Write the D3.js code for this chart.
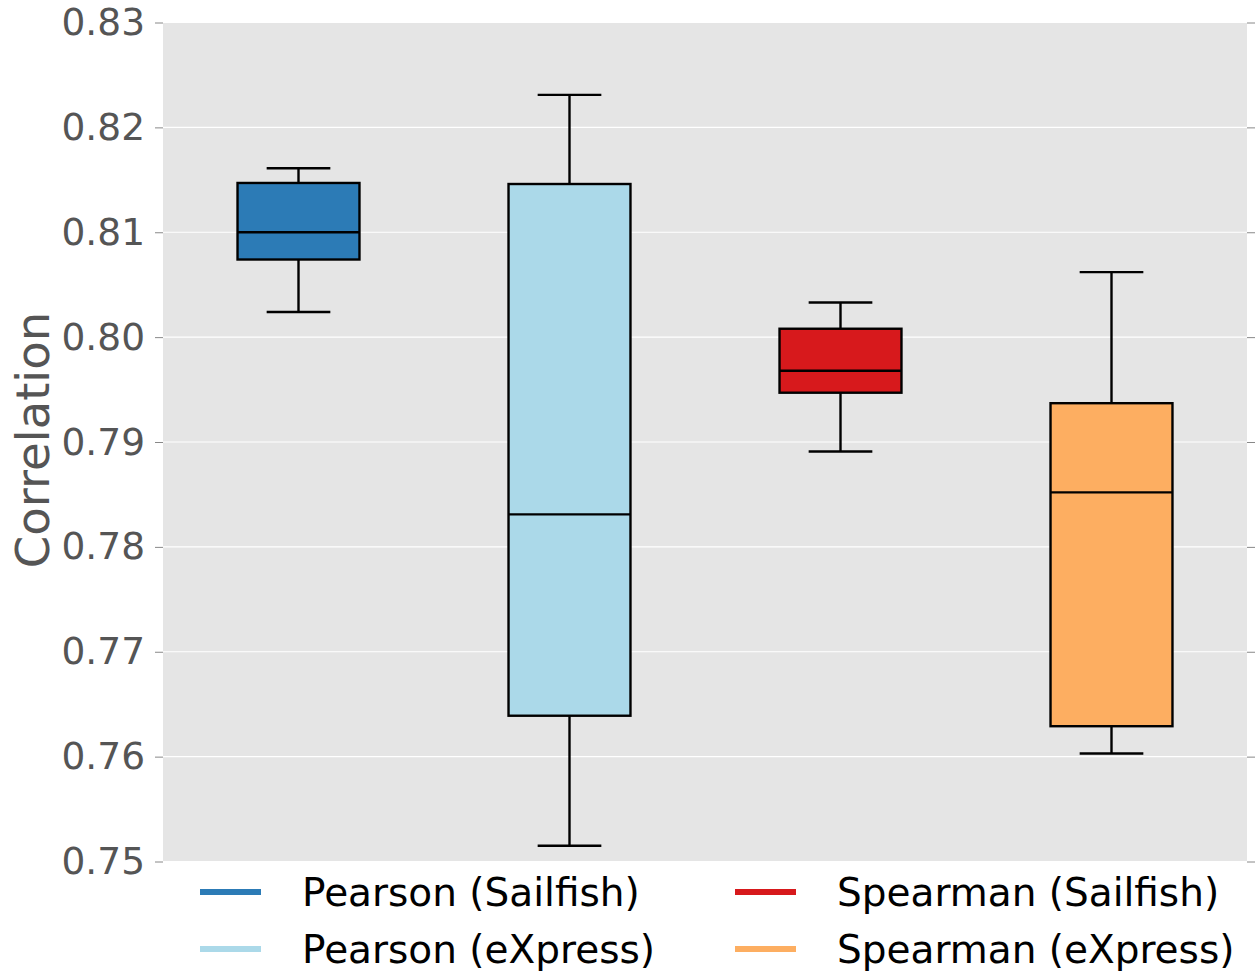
<!DOCTYPE html>
<html>
<head>
<meta charset="utf-8">
<script src="https://cdn.jsdelivr.net/npm/d3@7"></script>
<style>
  html, body { margin: 0; padding: 0; background: #fff; }
  svg { display: block; font-family: "DejaVu Sans", sans-serif; }
</style>
</head>
<body>
<svg id="chart" width="1257" height="971"></svg>
<script>
// Box-plot summaries of correlation per method/tool
const categories = ["Pearson (Sailfish)", "Pearson (eXpress)", "Spearman (Sailfish)", "Spearman (eXpress)"];
const whiskerLow  = [0.8024, 0.7515, 0.7891, 0.7603];
const q1          = [0.8074, 0.7639, 0.7947, 0.7629];
const median      = [0.8100, 0.7831, 0.7968, 0.7852];
const q3          = [0.8147, 0.8146, 0.8008, 0.7937];
const whiskerHigh = [0.8161, 0.8231, 0.8033, 0.8062];
const colors      = ["#2c7bb6", "#abd9e9", "#d7191c", "#fdae61"];
const yTicks      = [0.75, 0.76, 0.77, 0.78, 0.79, 0.80, 0.81, 0.82, 0.83];

const svg = d3.select("#chart");
const plot = { left: 163, right: 1247, top: 22.5, bottom: 861.5 };

const x = d3.scaleLinear().domain([0.5, 4.5]).range([plot.left, plot.right]);
const y = d3.scaleLinear().domain([0.75, 0.83]).range([plot.bottom, plot.top]);

// panel background
svg.append("rect")
  .attr("x", plot.left).attr("y", plot.top)
  .attr("width", plot.right - plot.left).attr("height", plot.bottom - plot.top)
  .attr("fill", "#e5e5e5");

// horizontal grid
svg.append("g").selectAll("line").data(yTicks).join("line")
  .attr("x1", plot.left).attr("x2", plot.right)
  .attr("y1", d => y(d)).attr("y2", d => y(d))
  .attr("stroke", "#fff").attr("stroke-width", 1.2);

// left axis
const leftAxis = svg.append("g")
  .attr("transform", `translate(${plot.left},0)`)
  .call(d3.axisLeft(y).tickValues(yTicks).tickFormat(d3.format(".2f")).tickSize(8).tickPadding(10));
leftAxis.select(".domain").remove();
leftAxis.selectAll(".tick line").attr("stroke", "#888").attr("stroke-width", 1);
leftAxis.selectAll(".tick text").attr("fill", "#555").style("font-size", "37.5px")
  .style("font-family", "DejaVu Sans, sans-serif");

// right axis (ticks only)
const rightAxis = svg.append("g")
  .attr("transform", `translate(${plot.right},0)`)
  .call(d3.axisRight(y).tickValues(yTicks).tickFormat("").tickSize(8));
rightAxis.select(".domain").remove();
rightAxis.selectAll(".tick line").attr("stroke", "#888").attr("stroke-width", 1);

// y label
svg.append("text")
  .attr("transform", `translate(49,${(plot.top + plot.bottom) / 2 - 2}) rotate(-90)`)
  .attr("text-anchor", "middle")
  .attr("fill", "#555")
  .style("font-size", "46.5px")
  .text("Correlation");

// boxes
const unit = x(2) - x(1);
const boxW = unit * 0.45;
const capW = unit * 0.235;
const sw = 2.4;

const boxes = svg.append("g").selectAll("g").data(categories.map((c, i) => i)).join("g");

boxes.append("line")
  .attr("x1", i => x(i + 1)).attr("x2", i => x(i + 1))
  .attr("y1", i => y(q3[i])).attr("y2", i => y(whiskerHigh[i]))
  .attr("stroke", "#000").attr("stroke-width", sw);
boxes.append("line")
  .attr("x1", i => x(i + 1)).attr("x2", i => x(i + 1))
  .attr("y1", i => y(q1[i])).attr("y2", i => y(whiskerLow[i]))
  .attr("stroke", "#000").attr("stroke-width", sw);
boxes.append("line")
  .attr("x1", i => x(i + 1) - capW / 2).attr("x2", i => x(i + 1) + capW / 2)
  .attr("y1", i => y(whiskerHigh[i])).attr("y2", i => y(whiskerHigh[i]))
  .attr("stroke", "#000").attr("stroke-width", sw);
boxes.append("line")
  .attr("x1", i => x(i + 1) - capW / 2).attr("x2", i => x(i + 1) + capW / 2)
  .attr("y1", i => y(whiskerLow[i])).attr("y2", i => y(whiskerLow[i]))
  .attr("stroke", "#000").attr("stroke-width", sw);
boxes.append("rect")
  .attr("x", i => x(i + 1) - boxW / 2)
  .attr("y", i => y(q3[i]))
  .attr("width", boxW)
  .attr("height", i => y(q1[i]) - y(q3[i]))
  .attr("fill", i => colors[i])
  .attr("stroke", "#000").attr("stroke-width", sw);
boxes.append("line")
  .attr("x1", i => x(i + 1) - boxW / 2).attr("x2", i => x(i + 1) + boxW / 2)
  .attr("y1", i => y(median[i])).attr("y2", i => y(median[i]))
  .attr("stroke", "#000").attr("stroke-width", sw);

// legend (two columns, column-major order)
const legendPos = [
  { lx: 200, ty: 892 }, { lx: 200, ty: 949 },
  { lx: 735, ty: 892 }, { lx: 735, ty: 949 }
];
const legend = svg.append("g").selectAll("g").data(categories).join("g")
  .attr("transform", (d, i) => `translate(${legendPos[i].lx},${legendPos[i].ty})`);
legend.append("line")
  .attr("x1", 0).attr("x2", 61).attr("y1", 0).attr("y2", 0)
  .attr("stroke", (d, i) => colors[i]).attr("stroke-width", 6);
legend.append("text")
  .attr("x", 102).attr("y", 0).attr("dy", "0.35em")
  .attr("fill", "#000")
  .style("font-size", "39px")
  .text(d => d);
</script>
</body>
</html>
